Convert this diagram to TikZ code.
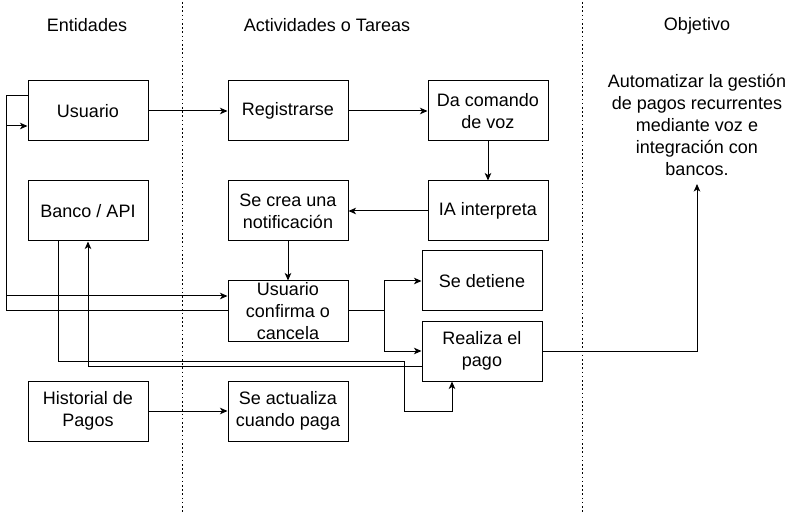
\documentclass[tikz,border=0pt]{standalone}
\usepackage{fontspec}
\setmainfont{Liberation Sans}
\usetikzlibrary{arrows.meta}
\begin{document}
\begin{tikzpicture}[x=1pt,y=-1pt,
  txt/.style={font=\fontsize{18pt}{22pt}\selectfont, align=center, inner sep=0pt},
  box/.style={txt, draw, line width=1pt, minimum width=120pt, minimum height=60pt},
  arr/.style={line width=1pt, -{Stealth[length=7.5pt,width=6.5pt,inset=2pt]}},
  ln/.style={line width=1pt},
  sep/.style={line width=1.6pt, dash pattern=on 1.6pt off 2.6pt}]
\useasboundingbox (0,0) rectangle (793,513);
\fill[white] (0,0) rectangle (793,513);
% separators
\draw[sep] (182.5,2) -- (182.5,512);
\draw[sep] (582.5,2) -- (582.5,512);
% headers
\node[txt] (h1) at (87,25) {Entidades};
\node[txt] (h2) at (327,25) {Actividades o Tareas};
\node[txt] (h3) at (697,26) {Objetivo};
% entity boxes
\node[box] (usr) at (88,111) {Usuario};
\node[box] (bank) at (88,211) {Banco / API};
\node[box] (hist) at (88,411) {Historial de\\Pagos};
% activity boxes
\node[box] (reg) at (288,111) {Registrarse};
\node[box] (notif) at (288,211) {Se crea una\\notificación};
\node[box] (conf) at (288,311) {Usuario\\confirma o\\cancela};
\node[box] (upd) at (288,411) {Se actualiza\\cuando paga};
\node[box] (cmd) at (488,111) {Da comando\\de voz};
\node[box] (ia) at (488,211) {IA interpreta};
\node[box] (det) at (482,281) {Se detiene};
\node[box] (real) at (482,351) {Realiza el\\pago};
% objective
\node[txt] (obj) at (697,125) {Automatizar la gestión\\de pagos recurrentes\\mediante voz e\\integración con\\bancos.};
\coordinate (objtip) at (697,184);
% connectors
\draw[arr] (usr) -- (reg);
\draw[arr] (reg) -- (cmd);
\draw[arr] (cmd) -- (ia);
\draw[arr] (ia) -- (notif);
\draw[arr] (notif) -- (conf);
\draw[arr] (hist) -- (upd);
\draw[arr] ([yshift=15pt]usr.west) -- ++(-21,0) |- ([yshift=15pt]conf.west);
\draw[arr] (conf.west) -- ++(-221,0) |- ([yshift=-15pt]usr.west);
\draw[arr] (conf.east) -- (384,311) |- (det.west);
\draw[arr] (conf.east) -- (384,311) |- (real.west);
\draw[arr] ([xshift=-30pt]bank.south) -- (58,361) -- (404,361) -- (404,411) -| ([xshift=-30pt]real.south);
\draw[arr] ([yshift=-15pt]real.west) -| (bank.south);
\draw[arr] (real.east) -| (objtip);
\end{tikzpicture}
\end{document}
